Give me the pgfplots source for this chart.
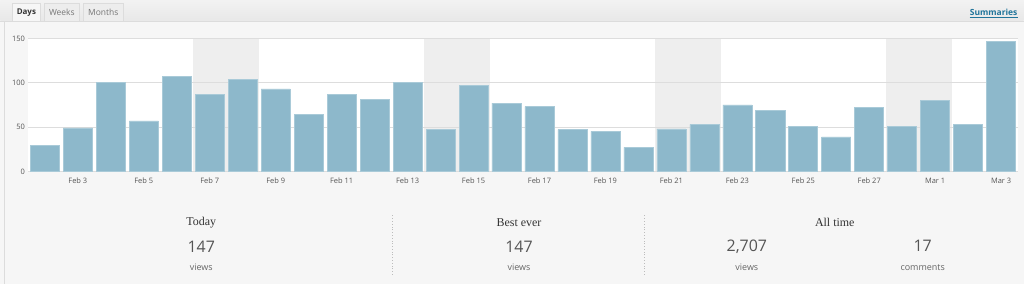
\documentclass[border=0pt]{standalone}
\usepackage{fontspec}
\setmainfont{Open Sans}
\newfontfamily\seriffont{Liberation Serif}
\usepackage{pgfplots}
\usepackage{pgfplotstable}
\pgfplotsset{compat=1.18}
\definecolor{barc}{HTML}{8DB8CB}
\definecolor{wkend}{HTML}{EEEEEE}
\definecolor{gridc}{HTML}{DDDDDD}
\definecolor{tickc}{HTML}{555555}
\definecolor{bgc}{HTML}{F6F6F6}
\definecolor{linkc}{HTML}{21759B}
\definecolor{tabline}{HTML}{DCDCDC}
\definecolor{darkt}{HTML}{333333}
\definecolor{midt}{HTML}{555555}
\definecolor{lightt}{HTML}{666666}

\pgfplotstableread{
x y
1 29
2 49
3 100
4 57
5 107
6 87
7 104
8 93
9 64
10 87
11 81
12 100
13 47
14 97
15 77
16 73
17 47
18 45
19 27
20 48
21 53
22 75
23 69
24 51
25 39
26 72
27 51
28 80
29 53
30 147
}\views

\begin{document}
\begin{tikzpicture}
% page background
\fill[bgc] (0,0) rectangle (1024bp,284bp);
% tab bar
\shade[top color=white!95!black, bottom color=white!91!black] (0,263bp) rectangle (1024bp,284bp);
\draw[tabline, line width=0.8bp] (0,263bp) -- (1024bp,263bp);
% left border
\draw[tabline, line width=0.8bp] (4bp,0) -- (4bp,263bp);
% tabs
\filldraw[fill=white!93!black, draw=tabline, line width=0.8bp] (44bp,263bp) -- (44bp,281bp) -- (79bp,281bp) -- (79bp,263bp);
\filldraw[fill=white!93!black, draw=tabline, line width=0.8bp] (83bp,263bp) -- (83bp,281bp) -- (123bp,281bp) -- (123bp,263bp);
\fill[bgc] (12bp,262.5bp) rectangle (40bp,281bp);
\draw[tabline, line width=0.8bp] (12bp,263bp) -- (12bp,281bp) -- (40bp,281bp) -- (40bp,263bp);
\node[font=\fontsize{8}{9}\selectfont\bfseries, text=darkt] at (26bp,271.5bp) {Days};
\node[font=\fontsize{8.5}{9}\selectfont, text=lightt!90!white] at (61.5bp,271.5bp) {Weeks};
\node[font=\fontsize{8.5}{9}\selectfont, text=lightt!90!white] at (103bp,271.5bp) {Months};
\node[font=\fontsize{8.5}{9}\selectfont\bfseries, text=linkc, inner sep=0pt, anchor=east] (sum) at (1018bp,271.5bp) {Summaries};
\draw[linkc, line width=0.6bp] ([yshift=-1.2bp]sum.base west) -- ([yshift=-1.2bp]sum.base east);

\begin{axis}[
  at={(28bp,112.5bp)}, anchor=south west,
  scale only axis, width=990bp, height=133bp,
  xmin=0.5, xmax=30.5, ymin=0, ymax=150,
  axis background/.style={fill=white},
  axis line style={draw=none},
  major tick length=0pt,
  ytick={0,50,100,150},
  xtick={2,4,...,30},
  xticklabels={Feb 3,Feb 5,Feb 7,Feb 9,Feb 11,Feb 13,Feb 15,Feb 17,Feb 19,Feb 21,Feb 23,Feb 25,Feb 27,Mar 1,Mar 3},
  tick label style={font=\fontsize{7.5}{8}\selectfont, text=tickc},
  xticklabel style={yshift=-3bp},
  /pgf/number format/assume math mode=true,
  ybar, bar width=0.88,
  clip=false,
]
\fill[wkend] (axis cs:5.5,0) rectangle (axis cs:7.5,150);
\fill[wkend] (axis cs:12.5,0) rectangle (axis cs:14.5,150);
\fill[wkend] (axis cs:19.5,0) rectangle (axis cs:21.5,150);
\fill[wkend] (axis cs:26.5,0) rectangle (axis cs:28.5,150);
\draw[gridc, line width=0.8bp] (axis cs:0.5,0) -- (axis cs:30.5,0);
\draw[gridc, line width=0.8bp] (axis cs:0.5,50) -- (axis cs:30.5,50);
\draw[gridc, line width=0.8bp] (axis cs:0.5,100) -- (axis cs:30.5,100);
\draw[gridc, line width=0.8bp] (axis cs:0.5,150) -- (axis cs:30.5,150);
\addplot[fill=barc, draw=barc!75!white, line width=0.6bp] table[x=x,y=y] {\views};
\end{axis}

% summary separators
\draw[gridc!85!black, dotted, line width=0.8bp] (392bp,9bp) -- (392bp,70bp);
\draw[gridc!85!black, dotted, line width=0.8bp] (644bp,9bp) -- (644bp,70bp);
% summary texts
\node[font=\seriffont\fontsize{12}{13}\selectfont, text=darkt] at (201bp,61bp) {Today};
\node[font=\seriffont\fontsize{12}{13}\selectfont, text=darkt] at (519bp,61bp) {Best ever};
\node[font=\seriffont\fontsize{12}{13}\selectfont, text=darkt] at (835bp,61bp) {All time};
\node[font=\fontsize{16}{17}\selectfont, text=midt] at (201bp,37.5bp) {147};
\node[font=\fontsize{16}{17}\selectfont, text=midt] at (519bp,37.5bp) {147};
\node[font=\fontsize{16}{17}\selectfont, text=midt] at (747bp,37.5bp) {2,707};
\node[font=\fontsize{16}{17}\selectfont, text=midt] at (923bp,37.5bp) {17};
\node[font=\fontsize{9}{10}\selectfont, text=lightt] at (201bp,16.3bp) {views};
\node[font=\fontsize{9}{10}\selectfont, text=lightt] at (519bp,16.3bp) {views};
\node[font=\fontsize{9}{10}\selectfont, text=lightt] at (747bp,16.3bp) {views};
\node[font=\fontsize{9}{10}\selectfont, text=lightt] at (923bp,16.3bp) {comments};
\end{tikzpicture}
\end{document}
